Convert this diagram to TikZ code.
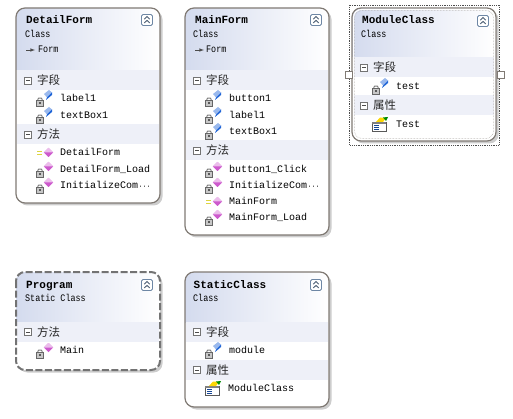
\documentclass[tikz,border=0pt]{standalone}
\usepackage{fontspec}
\setmainfont{Liberation Mono}
\newfontfamily\cjkf{Noto Sans CJK SC}
\newfontfamily\subf[FakeStretch=0.84]{Liberation Mono}
\usetikzlibrary{calc}
\definecolor{edgec}{RGB}{128,122,116}
\definecolor{shadowc}{RGB}{205,205,205}
\definecolor{bandc}{RGB}{238,240,248}
\definecolor{gradl}{RGB}{212,219,238}
\definecolor{btnc}{RGB}{110,135,165}
\definecolor{fieldc}{RGB}{30,100,215}
\definecolor{methc}{RGB}{205,90,205}
\definecolor{lockc}{RGB}{125,125,125}
\tikzset{
  x=1pt,y=-1pt,
  rowlabel/.style={anchor=base west,inner sep=0pt,font=\fontsize{10}{10}\selectfont,text=black},
  titlelabel/.style={anchor=base west,inner sep=0pt,font=\fontsize{11}{11}\selectfont\bfseries,text=black},
  sublabel/.style={anchor=base west,inner sep=0pt,font=\subf\fontsize{10}{10}\selectfont,text=black},
  headlabel/.style={anchor=base west,inner sep=0pt,font=\cjkf\fontsize{11.5}{12}\selectfont,text=black!85},
  handlebox/.style={draw=edgec,fill=white,line width=1pt,minimum size=7pt,inner sep=0pt},
  lockicon/.pic={
    \draw[lockc,line width=1pt] (-2.2,-1) -- (-2.2,-2.2) -- (-1.2,-3.4) -- (1.2,-3.4) -- (2.2,-2.2) -- (2.2,-1);
    \draw[black!60,fill=black!22,line width=.7pt] (-3.6,-1) rectangle (3.6,4.4);
    \fill[black!65] (-1,.8) rectangle (1,2.8);
  },
  fieldicon/.pic={
    \fill[fieldc!45!white] (0,-2)--(5,-6)--(8,-3.5)--(3,1.5)--cycle;
    \fill[fieldc] (3,1.5)--(8,-3.5)--(8,-1)--(2,4)--cycle;
  },
  methicon/.pic={
    \fill[methc] (0,-5.5)--(4.7,-1)--(0,3.5)--(-4.7,-1)--cycle;
    \fill[methc!40!white] (0,-5.5)--(4.7,-1)--(-4.7,-1)--cycle;
  },
  publines/.pic={
    \draw[yellow!70!gray,line width=.8pt] (-3,-1.2)--(2,-1.2) (-3,1)--(2,1);
  },
  propicon/.pic={
    \draw[black!65,fill=white,line width=.7pt] (-8,-2)--(6,-2)--(6,7)--(-8,7)--cycle;
    \fill[black!50] (-8,-2) rectangle (6,-.4);
    \draw[fieldc!70!black,line width=.6pt] (-6,1.5)--(-1,1.5) (-6,3.5)--(-1,3.5) (-6,5.5)--(-1,5.5);
    \fill[yellow!75!orange] (-4,-2)--(0,-6.5)--(6,-6)--(3,-2)--cycle;
    \fill[green!55!black] (3,-6.5)--(8,-7)--(6,-3)--cycle;
  }
}
\newcommand{\classbg}[5]{% name, x, y0, y1, title-bottom
  \fill[shadowc,rounded corners=9pt] (#2+2.5,#3+2.5) rectangle (#2+146.5,#4+2.5);
  \begin{scope}
    \clip[rounded corners=9pt] (#2,#3) rectangle (#2+144,#4);
    \fill[white] (#2,#3) rectangle (#2+144,#4);
    \shade[left color=gradl,right color=white] (#2,#3) rectangle (#2+144,#5);
  \end{scope}
}
\newcommand{\bandrow}[4]{% name, box x, y centre, text
  \fill[bandc] (#2+.7,#3-9.5) rectangle (#2+143.3,#3+10);
  \node[draw=black!55,fill=white,line width=.7pt,minimum size=7pt,inner sep=0pt] (#1b) at (#2+12,#3+.5) {};
  \draw[black!70,line width=.8pt] (#2+10,#3+.5) -- (#2+14,#3+.5);
  \node[headlabel] (#1) at (#2+21,#3+4.5) {#4};
}
\newcommand{\classedge}[5][]{% opts, x, y0, y1
  \draw[edgec,line width=1.2pt,rounded corners=9pt,#1] (#2,#3) rectangle (#2+144,#4);
}
\newcommand{\btn}[3]{% name, x, y
  \node[draw=btnc,fill=white,rounded corners=1.5pt,minimum size=11pt,inner sep=0pt,line width=.9pt] (#1) at (#2,#3) {};
  \draw[btnc!70!black,line width=.9pt] (#2-2.7,#3-.8)--(#2,#3-3.4)--(#2+2.7,#3-.8) (#2-2.7,#3+3)--(#2,#3+.4)--(#2+2.7,#3+3);
}
\newcommand{\fieldrow}[4]{% name, box x, y, text
  \pic at (#2+24,#3+3.5) {lockicon};
  \pic at (#2+28,#3-2) {fieldicon};
  \node[rowlabel] (#1) at (#2+44,#3+3.2) {#4};
}
\newcommand{\methrow}[4]{% name, box x, y, text
  \pic at (#2+24,#3+3.5) {lockicon};
  \pic at (#2+32.5,#3-1.5) {methicon};
  \node[rowlabel] (#1) at (#2+44,#3+3.2) {#4};
}
\newcommand{\pubrow}[4]{% name, box x, y, text
  \pic at (#2+24,#3+1) {publines};
  \pic at (#2+32.5,#3+1.5) {methicon};
  \node[rowlabel] (#1) at (#2+44,#3+3.2) {#4};
}
\newcommand{\ellip}{\hspace{.5pt}{\fontsize{6.5}{6}\selectfont\textbf{···}}}
\begin{document}
\begin{tikzpicture}
\useasboundingbox (0,0) rectangle (513,419);
\fill[white] (0,0) rectangle (513,419);

% DetailForm
\classbg{d}{16}{8}{203}{70}
\node[titlelabel] (dtitle) at (26,24) {DetailForm};
\node[sublabel] (dsub) at (25,38) {Class};
\node[sublabel] (dbase) at (38,53) {Form};
\draw[black!70,-latex,line width=.6pt] (26,50)--(35,50);
\btn{dbtn}{147}{20}
\bandrow{df}{16}{80}{字段}
\bandrow{dm}{16}{134}{方法}
\fieldrow{d1}{16}{98}{label1}
\fieldrow{d2}{16}{115}{textBox1}
\pubrow{d3}{16}{152}{DetailForm}
\methrow{d4}{16}{169}{DetailForm\_Load}
\methrow{d5}{16}{185}{InitializeCom\ellip}
\classedge{16}{8}{203}{}

% MainForm
\classbg{m}{185}{8}{235}{70}
\node[titlelabel] (mtitle) at (195,24) {MainForm};
\node[sublabel] (msub) at (193,38) {Class};
\node[sublabel] (mbase) at (206,53) {Form};
\draw[black!70,-latex,line width=.6pt] (195,50)--(204,50);
\btn{mbtn}{316}{20}
\bandrow{mf}{185}{80}{字段}
\bandrow{mm}{185}{150}{方法}
\fieldrow{m1}{185}{98}{button1}
\fieldrow{m2}{185}{115}{label1}
\fieldrow{m3}{185}{131}{textBox1}
\methrow{m4}{185}{169}{button1\_Click}
\methrow{m5}{185}{185}{InitializeCom\ellip}
\pubrow{m6}{185}{201}{MainForm}
\methrow{m7}{185}{217}{MainForm\_Load}
\classedge{185}{8}{235}{}

% ModuleClass
\draw[black!70,line width=.8pt,densely dotted] (349.5,5.5) rectangle (499.5,145);
\classbg{c}{352}{8}{141}{57}
\node[titlelabel] (ctitle) at (362,24) {ModuleClass};
\node[sublabel] (csub) at (361,38) {Class};
\btn{cbtn}{483}{21}
\bandrow{cf}{352}{67}{字段}
\bandrow{cp}{352}{105}{属性}
\fieldrow{c1}{352}{86}{test}
\pic at (380,124) {propicon};
\node[rowlabel] (c2) at (396,127.2) {Test};
\classedge{352}{8}{141}{}
\draw[white,line width=1pt,rounded corners=8pt] (353.5,9.5) rectangle (494.5,139.5);
\draw[edgec!70,line width=.5pt,densely dotted,rounded corners=7.5pt] (354.5,10.5) rectangle (493.5,138.5);
\node[handlebox] (hl) at (348.5,75) {};
\node[handlebox] (hr) at (500.5,75) {};

% Program
\classbg{p}{16}{272}{370}{322}
\node[titlelabel] (ptitle) at (26,288) {Program};
\node[sublabel] (psub) at (25,301) {Static Class};
\btn{pbtn}{147}{285}
\bandrow{pm}{16}{331.5}{方法}
\methrow{p1}{16}{350}{Main}
\classedge[dash pattern=on 7pt off 2.5pt,line width=2pt,draw=black!55]{16}{272}{370}{}

% StaticClass
\classbg{s}{185}{272}{407}{322}
\node[titlelabel] (stitle) at (193.5,288) {StaticClass};
\node[sublabel] (ssub) at (193,301) {Class};
\btn{sbtn}{316}{285}
\bandrow{sf}{185}{331.5}{字段}
\bandrow{sp}{185}{369.5}{属性}
\fieldrow{s1}{185}{350}{module}
\pic at (213,388) {propicon};
\node[rowlabel] (s2) at (228,391.2) {ModuleClass};
\classedge{185}{272}{407}{}
\end{tikzpicture}
\end{document}
